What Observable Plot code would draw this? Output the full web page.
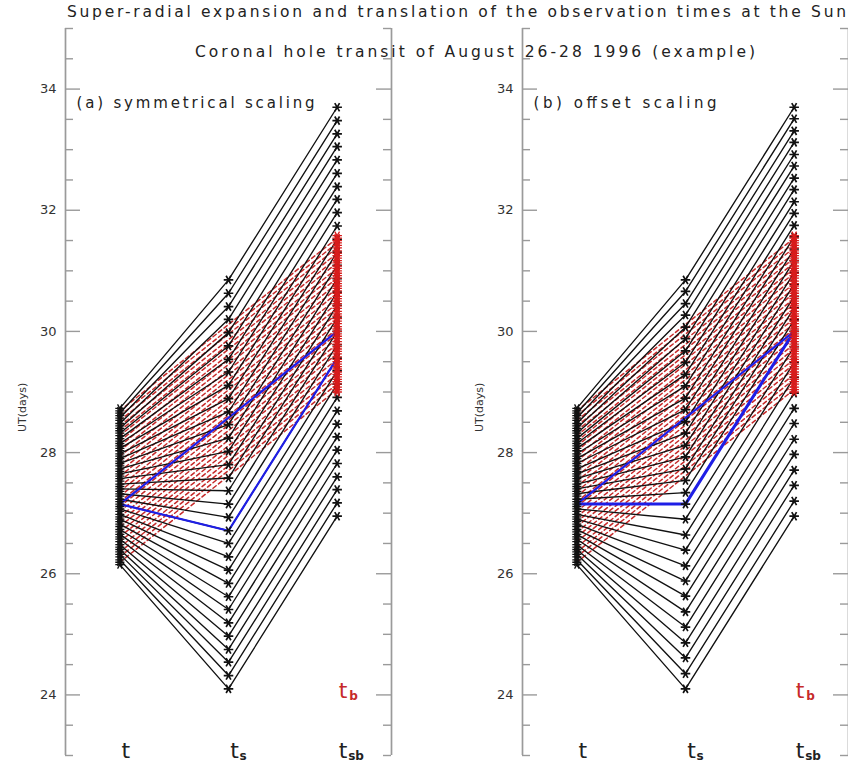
<!DOCTYPE html>
<html><head><meta charset="utf-8">
<script src="https://cdn.jsdelivr.net/npm/d3@7"></script>
<script src="https://cdn.jsdelivr.net/npm/@observablehq/plot@0.6"></script>
<style>
body{margin:0;background:#fff;}
#wrap{position:relative;width:848px;height:764px;overflow:hidden;font-family:"DejaVu Sans",sans-serif;}
#wrap svg{position:absolute;top:0;}
</style></head><body><div id="wrap"></div>
<script>
// ---- data (days of August 1996, UT) ----
const columns = ["t", "ts", "tsb"];
const yMajorTicks = [24, 26, 28, 30, 32, 34];
const yMinorTicks = [23, 23.5, 24.5, 25, 25.5, 26.5, 27, 27.5, 28.5, 29, 29.5, 30.5, 31, 31.5, 32.5, 33, 33.5, 34.5, 35];

// hourly observation times t and translated times t_b
const tObs = [26.15,26.19,26.23,26.28,26.32,26.36,26.40,26.44,26.48,26.53,26.57,26.61,26.65,26.69,26.73,26.78,26.82,26.86,26.90,26.94,26.98,27.03,27.07,27.11,27.15,27.19,27.23,27.28,27.32,27.36,27.40,27.44,27.48,27.53,27.57,27.61,27.65,27.69,27.73,27.78,27.82,27.86,27.90,27.94,27.98,28.03,28.07,28.11,28.15,28.19,28.23,28.28,28.32,28.36,28.40,28.44,28.48,28.53,28.57,28.61,28.65,28.69,28.73];
const tbObs = [29.00,29.04,29.08,29.13,29.17,29.21,29.25,29.29,29.33,29.38,29.42,29.46,29.50,29.54,29.58,29.63,29.67,29.71,29.75,29.79,29.83,29.88,29.92,29.96,30.00,30.04,30.08,30.13,30.17,30.21,30.25,30.29,30.33,30.38,30.42,30.46,30.50,30.54,30.58,30.63,30.67,30.71,30.75,30.79,30.83,30.88,30.92,30.96,31.00,31.04,31.08,31.13,31.17,31.21,31.25,31.29,31.33,31.38,31.42,31.46,31.50,31.54,31.58];

// sampled times (every 2 h) and their mapped positions
const tSample = [26.15,26.23,26.32,26.40,26.48,26.57,26.65,26.73,26.82,26.90,26.98,27.07,27.15,27.23,27.32,27.40,27.48,27.57,27.65,27.73,27.82,27.90,27.98,28.07,28.15,28.23,28.32,28.40,28.48,28.57,28.65,28.73];
// (a) symmetrical scaling
const tsSym = [24.10,24.32,24.54,24.75,24.97,25.19,25.41,25.62,25.84,26.06,26.28,26.50,26.71,26.93,27.15,27.37,27.58,27.80,28.02,28.24,28.46,28.67,28.89,29.11,29.33,29.54,29.76,29.98,30.20,30.41,30.63,30.85];
const tsbSym = [26.95,27.17,27.39,27.60,27.82,28.04,28.26,28.47,28.69,28.91,29.13,29.35,29.56,29.78,30.00,30.22,30.43,30.65,30.87,31.09,31.31,31.52,31.74,31.96,32.18,32.39,32.61,32.83,33.05,33.26,33.48,33.70];
// (b) offset scaling
const tsOff = [24.10,24.35,24.61,24.86,25.12,25.37,25.63,25.88,26.13,26.39,26.64,26.90,27.15,27.34,27.54,27.73,27.93,28.12,28.32,28.51,28.71,28.90,29.10,29.29,29.49,29.68,29.88,30.07,30.27,30.46,30.66,30.85];
const tsbOff = [26.95,27.20,27.46,27.71,27.97,28.22,28.48,28.73,28.98,29.24,29.49,29.75,30.00,30.19,30.39,30.58,30.78,30.97,31.17,31.36,31.56,31.75,31.95,32.14,32.34,32.53,32.73,32.92,33.12,33.31,33.51,33.70];

// highlighted reference point (blue)
const blueStraightCols = ["t", "tsb"];
const blueStraightSym = [27.15, 30.00];
const blueScaledSym = [27.15, 26.71, 29.56];
const blueStraightOff = [27.15, 30.00];
const blueScaledOff = [27.15, 27.15, 30.00];

const titleText = "Super-radial expansion and translation of the observation times at the Sun";
const subtitleText = "Coronal hole transit of August 26-28 1996 (example)";
const panelLabels = ["(a) symmetrical scaling", "(b) offset scaling"];

// ---- styling ----
const AX = "#9a9a9a", INK = "#111", RED = "#c62a2a", REDSTAR = "#d81c1c", BLUE = "#1e1ee6";
const FRAME_W = 326;
const xDomain = [-0.5, 2.5];
const yDomain = [23, 35];
const col = c => columns.indexOf(c);

function buildPanel({ts, tsb, blueStraight, blueScaled, label, width, marginRight, blueWidth}) {
  const black = [];
  tSample.forEach((v, i) => {
    black.push({id: i, x: col("t"), y: v}, {id: i, x: col("ts"), y: ts[i]}, {id: i, x: col("tsb"), y: tsb[i]});
  });
  const red = [];
  tObs.forEach((v, i) => {
    if (i % 2 === 1) red.push({id: i, x: col("t"), y: v}, {id: i, x: col("tsb"), y: tbObs[i]});
  });
  const blueS = blueStraight.map((v, i) => ({x: col(blueStraightCols[i]), y: v}));
  const blueK = blueScaled.map((v, i) => ({x: i, y: v}));

  const svg = Plot.plot({
    width, height: 764,
    marginLeft: 65, marginRight, marginTop: 28, marginBottom: 9,
    x: {domain: xDomain, axis: null},
    y: {domain: yDomain, axis: null},
    style: {fontFamily: "DejaVu Sans", background: "transparent", overflow: "visible"},
    marks: [
      Plot.ruleX(xDomain, {stroke: AX, strokeWidth: 1.7}),
      Plot.tickY(yMajorTicks, {y: d => d, insetRight: FRAME_W - 15, stroke: AX, strokeWidth: 1.4}),
      Plot.tickY(yMajorTicks, {y: d => d, insetLeft: FRAME_W - 15, stroke: AX, strokeWidth: 1.4}),
      Plot.tickY(yMinorTicks, {y: d => d, insetRight: FRAME_W - 8, stroke: AX, strokeWidth: 1.4}),
      Plot.tickY(yMinorTicks, {y: d => d, insetLeft: FRAME_W - 8, stroke: AX, strokeWidth: 1.4}),
      Plot.text(yMajorTicks, {y: d => d, text: d => String(d), frameAnchor: "left", textAnchor: "end", dx: -9, fontSize: 13, fill: "#333"}),
      Plot.text(["UT(days)"], {frameAnchor: "left", dx: -43, dy: 40, rotate: -90, fontSize: 11, fill: "#333"}),
      Plot.line(red, {x: "x", y: "y", z: "id", stroke: RED, strokeWidth: 1.5, strokeDasharray: "4,3"}),
      Plot.line(black, {x: "x", y: "y", z: "id", stroke: INK, strokeWidth: 1.35}),
      Plot.line(blueS, {x: "x", y: "y", stroke: BLUE, strokeWidth: 2.2}),
      Plot.line(blueK, {x: "x", y: "y", stroke: BLUE, strokeWidth: blueWidth}),
      Plot.dot(tObs, {x: () => col("t"), y: d => d, symbol: "asterisk", r: 4.3, stroke: INK, strokeWidth: 1.3, rotate: 90}),
      Plot.dot(ts, {x: () => col("ts"), y: d => d, symbol: "asterisk", r: 4.5, stroke: INK, strokeWidth: 1.7, rotate: 90}),
      Plot.dot(tsb, {x: () => col("tsb"), y: d => d, symbol: "asterisk", r: 4.5, stroke: INK, strokeWidth: 1.7, rotate: 90}),
      Plot.dot(tbObs, {x: () => col("tsb"), y: d => d, symbol: "asterisk", r: 4.5, stroke: REDSTAR, strokeWidth: 1.3, rotate: 90}),
      Plot.text(columns, {x: c => col(c), text: () => "t", frameAnchor: "bottom", lineAnchor: "bottom", dx: 6, dy: 2, fontSize: 22, fill: "#222"}),
      Plot.text(columns, {x: c => col(c), text: c => c.slice(1), frameAnchor: "bottom", lineAnchor: "bottom", textAnchor: "start", dx: 11, dy: 4, fontSize: 12, fontWeight: "bold", fill: "#222"}),
      Plot.text(["tsb"], {x: c => col(c), text: () => "t", frameAnchor: "bottom", lineAnchor: "bottom", dx: 6, dy: -58, fontSize: 22, fill: RED}),
      Plot.text(["tsb"], {x: c => col(c), text: () => "b", frameAnchor: "bottom", lineAnchor: "bottom", textAnchor: "start", dx: 12, dy: -56, fontSize: 12, fontWeight: "bold", fill: RED}),
      Plot.text([label], {frameAnchor: "top-left", lineAnchor: "bottom", textAnchor: "start", dx: 11, dy: 79, fontSize: 15, fill: "#222"})
    ]
  });
  return svg;
}

const wrap = document.getElementById("wrap");
const svgA = buildPanel({ts: tsSym, tsb: tsbSym, blueStraight: blueStraightSym, blueScaled: blueScaledSym, label: panelLabels[0], width: 457, marginRight: 66, blueWidth: 2.2});
svgA.style.left = "0px";
wrap.appendChild(svgA);
const svgB = buildPanel({ts: tsOff, tsb: tsbOff, blueStraight: blueStraightOff, blueScaled: blueScaledOff, label: panelLabels[1], width: 391, marginRight: 0, blueWidth: 3});
svgB.style.left = "457px";
wrap.appendChild(svgB);

// stretch the panel labels to the wide plotting font of the original
const labelWidths = {"(a) symmetrical scaling": 238, "(b) offset scaling": 183};
for (const s of [svgA, svgB]) {
  s.querySelectorAll("text").forEach(el => {
    const w = labelWidths[el.textContent];
    if (w) { el.setAttribute("textLength", w); el.setAttribute("lengthAdjust", "spacing"); }
  });
}

// titles
const over = d3.create("svg").attr("width", 848).attr("height", 764)
  .style("left", "0px").style("pointer-events", "none")
  .attr("font-family", "DejaVu Sans").attr("fill", "#222");
over.append("text").attr("x", 67).attr("y", 17).attr("font-size", 15.5)
  .attr("textLength", 779).attr("lengthAdjust", "spacing").text(titleText);
over.append("text").attr("x", 195).attr("y", 57).attr("font-size", 15.5)
  .attr("textLength", 560).attr("lengthAdjust", "spacing").text(subtitleText);
wrap.appendChild(over.node());
</script></body></html>
